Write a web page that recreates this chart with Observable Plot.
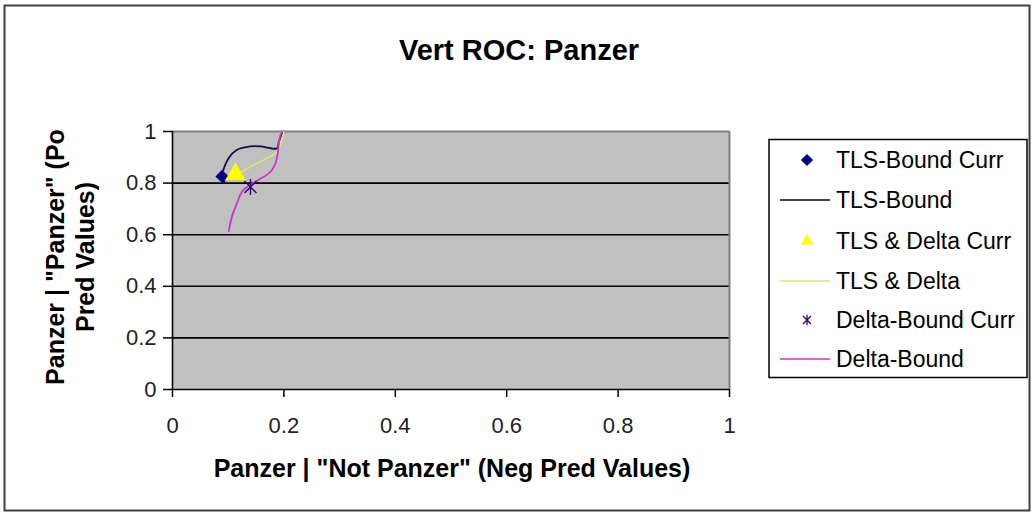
<!DOCTYPE html>
<html>
<head>
<meta charset="utf-8">
<script src="https://cdn.jsdelivr.net/npm/d3@7"></script>
<script src="https://cdn.jsdelivr.net/npm/@observablehq/plot@0.6"></script>
<style>
  html, body { margin: 0; padding: 0; background: #fff; }
  svg { display: block; }
</style>
</head>
<body>
<div id="chart"></div>
<script>
// ---------- data ----------
const chartTitle = "Vert ROC: Panzer";
const xTitle = 'Panzer | "Not Panzer" (Neg Pred Values)';
const yTitleLines = ['Panzer | "Panzer" (Po', 'Pred Values)'];
const xTicks = [0, 0.2, 0.4, 0.6, 0.8, 1];
const yTicks = [0, 0.2, 0.4, 0.6, 0.8, 1];
const seriesNames = ["TLS-Bound Curr", "TLS-Bound", "TLS & Delta Curr", "TLS & Delta", "Delta-Bound Curr", "Delta-Bound"];

const tlsBoundCurrX = [0.089];
const tlsBoundCurrY = [0.826];
const tlsBoundX = [0.094, 0.089, 0.101, 0.116, 0.140, 0.158, 0.176, 0.188, 0.191, 0.197, 0.200];
const tlsBoundY = [0.803, 0.826, 0.897, 0.929, 0.942, 0.942, 0.935, 0.935, 0.961, 0.990, 1.000];

const tlsDeltaCurrX = [0.113];
const tlsDeltaCurrY = [0.835];
const tlsDeltaX = [0.113, 0.125, 0.146, 0.170, 0.188, 0.197, 0.200];
const tlsDeltaY = [0.833, 0.845, 0.871, 0.897, 0.923, 0.975, 1.000];

const deltaBoundCurrX = [0.140];
const deltaBoundCurrY = [0.785];
const deltaBoundX = [0.101, 0.107, 0.116, 0.125, 0.140, 0.155, 0.170, 0.179, 0.185, 0.189, 0.191, 0.194, 0.197];
const deltaBoundY = [0.614, 0.672, 0.723, 0.768, 0.794, 0.813, 0.833, 0.852, 0.878, 0.916, 0.955, 0.987, 1.000];

// ---------- build tables ----------
const toRows = (xs, ys) => xs.map((x, i) => ({x, y: ys[i]}));
const tlsBoundCurr = toRows(tlsBoundCurrX, tlsBoundCurrY);
const tlsBound = toRows(tlsBoundX, tlsBoundY);
const tlsDeltaCurr = toRows(tlsDeltaCurrX, tlsDeltaCurrY);
const tlsDelta = toRows(tlsDeltaX, tlsDeltaY);
const deltaBoundCurr = toRows(deltaBoundCurrX, deltaBoundCurrY);
const deltaBound = toRows(deltaBoundX, deltaBoundY);

// styles
const C = {
  navy: "#000080",
  navyLine: "#10104a",
  yellow: "#ffff00",
  yellowLine: "#dde86a",
  star: "#330066",
  magenta: "#cc33cc"
};
const FONT = "'Liberation Sans', Arial, Helvetica, sans-serif";

// Excel-style star marker: vertical stroke plus an X
const excelStar = {
  draw(context, size) {
    const r = Math.sqrt(size / Math.PI);
    const d = r * 0.75;
    context.moveTo(0, -r); context.lineTo(0, r);
    context.moveTo(-d, -d); context.lineTo(d, d);
    context.moveTo(-d, d); context.lineTo(d, -d);
  }
};

const chart = Plot.plot({
  width: 1035,
  height: 516,
  marginLeft: 172,
  marginRight: 306,
  marginTop: 131,
  marginBottom: 127,
  style: {fontFamily: FONT, fontSize: "22px", color: "#222", background: "#fff", overflow: "visible"},
  x: {domain: [0, 1]},
  y: {domain: [0, 1]},
  marks: [
    Plot.frame({fill: "#c0c0c0", stroke: "none"}),
    Plot.ruleY(yTicks.filter(d => d > 0 && d < 1), {stroke: "#000", strokeWidth: 1.6}),
    Plot.ruleY([1], {stroke: "#808080", strokeWidth: 2}),
    Plot.ruleX([1], {stroke: "#808080", strokeWidth: 2}),
    Plot.axisX({ticks: xTicks, tickSize: 8, tickPadding: 20, tickFormat: d => String(d), label: null, stroke: "#000", strokeWidth: 1.5}),
    Plot.axisY({ticks: yTicks, tickSize: 9, tickPadding: 7, tickFormat: d => String(d), label: null, stroke: "#000", strokeWidth: 1.5}),
    Plot.ruleX([0], {stroke: "#000", strokeWidth: 1.6}),
    Plot.ruleY([0], {stroke: "#000", strokeWidth: 1.6}),
    Plot.line(tlsBound, {x: "x", y: "y", stroke: C.navyLine, strokeWidth: 1.8, curve: "catmull-rom"}),
    Plot.line(tlsDelta, {x: "x", y: "y", stroke: C.yellowLine, strokeWidth: 1.6, curve: "catmull-rom"}),
    Plot.line(deltaBound, {x: "x", y: "y", stroke: C.magenta, strokeWidth: 1.8, curve: "catmull-rom"}),
    Plot.dot(tlsBoundCurr, {x: "x", y: "y", symbol: "diamond2", r: 6, fill: C.navy, stroke: "none"}),
    Plot.dot(tlsDeltaCurr, {x: "x", y: "y", symbol: "triangle", r: 7.5, fill: C.yellow, stroke: "none"}),
    Plot.dot(deltaBoundCurr, {x: "x", y: "y", symbol: excelStar, r: 8, fill: "none", stroke: C.star, strokeWidth: 1.4})
  ]
});

document.getElementById("chart").appendChild(chart);

// ---------- surrounding text, frame and legend ----------
const svg = d3.select(chart);

// outer chart border
svg.append("rect")
  .attr("x", 4.5).attr("y", 5.5).attr("width", 1025).attr("height", 505)
  .attr("fill", "none").attr("stroke", "#404040").attr("stroke-width", 2);

// title
svg.append("text")
  .attr("x", 519).attr("y", 60)
  .attr("text-anchor", "middle")
  .attr("font-family", FONT).attr("font-size", 29).attr("font-weight", "bold")
  .attr("fill", "#000")
  .text(chartTitle);

// x title
svg.append("text")
  .attr("x", 452).attr("y", 477)
  .attr("text-anchor", "middle")
  .attr("font-family", FONT).attr("font-size", 25).attr("font-weight", "bold")
  .attr("fill", "#000")
  .text(xTitle);

// y title (two lines, rotated)
const yBaselines = [64, 94];
yTitleLines.forEach((line, i) => {
  svg.append("text")
    .attr("transform", `translate(${yBaselines[i]},257) rotate(-90)`)
    .attr("text-anchor", "middle")
    .attr("font-family", FONT).attr("font-size", 25).attr("font-weight", "bold")
    .attr("fill", "#000")
    .text(line);
});

// legend
const lg = svg.append("g");
lg.append("rect")
  .attr("x", 769).attr("y", 139.5).attr("width", 258).attr("height", 238)
  .attr("fill", "#fff").attr("stroke", "#000").attr("stroke-width", 1.5);

const legendKinds = [
  {type: "symbol", symbol: d3.symbolDiamond2, size: 95, fill: C.navy, stroke: "none"},
  {type: "line", stroke: "#000020", width: 1.5},
  {type: "symbol", symbol: d3.symbolTriangle, size: 65, fill: C.yellow, stroke: "none"},
  {type: "line", stroke: C.yellowLine, width: 1.5},
  {type: "symbol", symbol: excelStar, size: 90, fill: "none", stroke: C.star, sw: 1.3},
  {type: "line", stroke: C.magenta, width: 1.6}
];
const rowY = [160, 200, 241, 281, 320, 359];
seriesNames.forEach((name, i) => {
  const k = legendKinds[i];
  const cy = rowY[i];
  if (k.type === "symbol") {
    lg.append("path")
      .attr("transform", `translate(807,${cy})`)
      .attr("d", d3.symbol(k.symbol, k.size)())
      .attr("fill", k.fill).attr("stroke", k.stroke)
      .attr("stroke-width", k.sw || 0);
  } else {
    lg.append("line")
      .attr("x1", 780).attr("x2", 830).attr("y1", cy).attr("y2", cy)
      .attr("stroke", k.stroke).attr("stroke-width", k.width);
  }
  lg.append("text")
    .attr("x", 836).attr("y", cy + 8)
    .attr("text-anchor", "start")
    .attr("font-family", FONT).attr("font-size", 23)
    .attr("fill", "#000")
    .text(name);
});
</script>
</body>
</html>
